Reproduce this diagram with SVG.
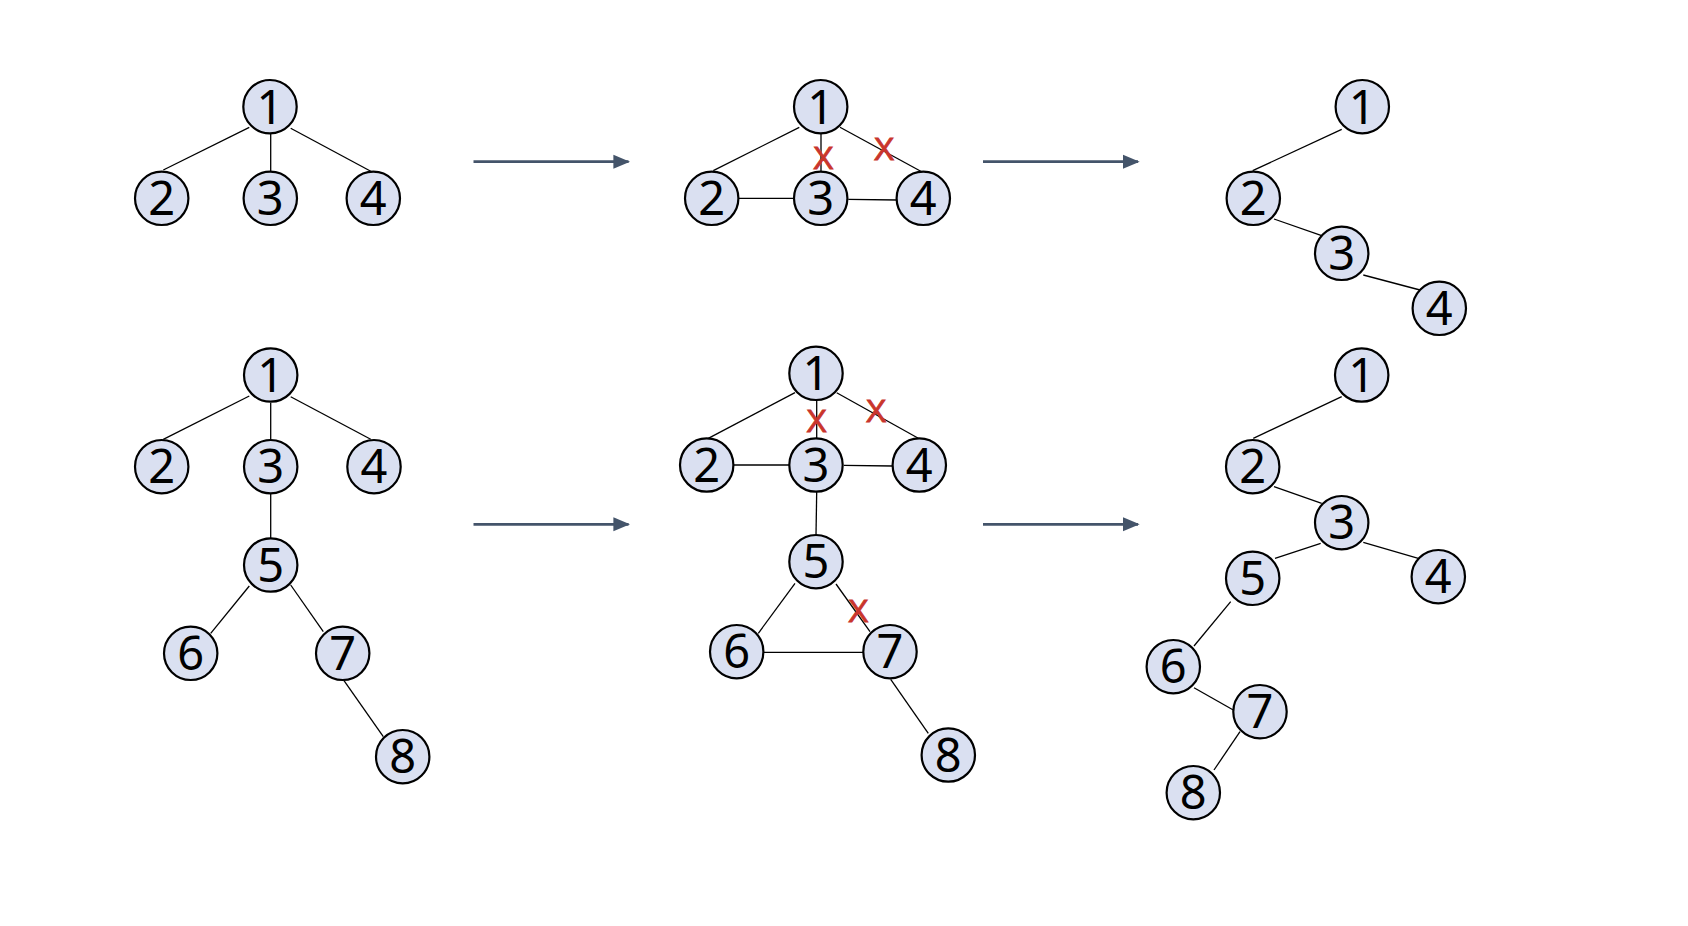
<svg xmlns="http://www.w3.org/2000/svg" width="1688" height="926" viewBox="0 0 1688 926">
<style>
.n circle{fill:#DAE0F1;stroke:#000;stroke-width:2.2}
.n text{font-family:"Noto Sans",Roboto,sans-serif;font-size:47px;fill:#000;text-anchor:middle}
.e line{stroke:#000;stroke-width:1.3}
.a line{stroke:#44546A;stroke-width:2.8}
.x{font-family:"Liberation Sans",Arial,sans-serif;font-size:31px;fill:#C9352C;stroke:#C9352C;stroke-width:0.9;text-anchor:middle}
</style>
<defs>
<marker id="ah" markerWidth="6" markerHeight="6" refX="5.4" refY="2.5" orient="auto" markerUnits="strokeWidth" viewBox="0 0 6 5">
<path d="M0,0 L6,2.5 L0,5 Z" fill="#44546A"/>
</marker>
</defs>
<rect width="1688" height="926" fill="#fff"/>

<g id="connectors">
<g class="e">
<line x1="249.3" y1="127.3" x2="163.3" y2="170"/>
<line x1="270.7" y1="133.3" x2="270.7" y2="171.7"/>
<line x1="290.7" y1="128.3" x2="371.7" y2="171.7"/>
<line x1="799.3" y1="127.3" x2="713.3" y2="170.7"/>
<line x1="821" y1="134" x2="821" y2="171.7"/>
<line x1="840" y1="127.3" x2="921.7" y2="171.7"/>
<line x1="738.3" y1="198.3" x2="794" y2="198.3"/>
<line x1="848.3" y1="199.3" x2="897.3" y2="200"/>
<line x1="1341.7" y1="129.3" x2="1252.7" y2="170.7"/>
<line x1="1274" y1="219" x2="1321.7" y2="235.7"/>
<line x1="1363.3" y1="275" x2="1420" y2="290"/>
<line x1="249.3" y1="396" x2="163.3" y2="439.3"/>
<line x1="270.7" y1="402.7" x2="270.7" y2="439.3"/>
<line x1="290.7" y1="396.7" x2="370.7" y2="439.3"/>
<line x1="270.7" y1="494" x2="270.7" y2="538.3"/>
<line x1="249.3" y1="586" x2="210.7" y2="633.3"/>
<line x1="290.7" y1="585" x2="323.3" y2="631.7"/>
<line x1="344" y1="680.7" x2="383.3" y2="736.7"/>
<line x1="795" y1="392.7" x2="708.3" y2="438.3"/>
<line x1="816.7" y1="400" x2="816.7" y2="438.3"/>
<line x1="836.7" y1="392.7" x2="918.3" y2="438.3"/>
<line x1="734" y1="465" x2="789.3" y2="465"/>
<line x1="844" y1="465.3" x2="892.3" y2="466"/>
<line x1="816.7" y1="491.7" x2="816" y2="535"/>
<line x1="795" y1="583.3" x2="758.3" y2="633.3"/>
<line x1="836" y1="584" x2="870" y2="631.7"/>
<line x1="764" y1="652.3" x2="863.3" y2="652.3"/>
<line x1="890.7" y1="679.3" x2="928.3" y2="733.3"/>
<line x1="1341.7" y1="396.7" x2="1253.3" y2="438.3"/>
<line x1="1274" y1="486.7" x2="1321.7" y2="503.3"/>
<line x1="1320.7" y1="543.3" x2="1275" y2="558.3"/>
<line x1="1363.3" y1="542.3" x2="1418.3" y2="558.3"/>
<line x1="1230.7" y1="601.7" x2="1194" y2="646"/>
<line x1="1194" y1="687.7" x2="1233.3" y2="710"/>
<line x1="1240" y1="731.7" x2="1214" y2="770"/>
</g>
<g class="a">
<line x1="473.5" y1="161.7" x2="628.5" y2="161.7" marker-end="url(#ah)"/>
<line x1="983" y1="161.7" x2="1138" y2="161.7" marker-end="url(#ah)"/>
<line x1="473.5" y1="524.3" x2="628.5" y2="524.3" marker-end="url(#ah)"/>
<line x1="983" y1="524.3" x2="1138" y2="524.3" marker-end="url(#ah)"/>
</g>
</g>

<g id="tl1" class="n"><circle cx="270" cy="106.7" r="26.7"/><text x="270" y="123.5">1</text></g>
<g id="tl2" class="n"><circle cx="161.7" cy="198.3" r="26.7"/><text x="161.7" y="215">2</text></g>
<g id="tl3" class="n"><circle cx="270.3" cy="198.3" r="26.7"/><text x="270.3" y="215">3</text></g>
<g id="tl4" class="n"><circle cx="373.3" cy="198.3" r="26.7"/><text x="373.3" y="215">4</text></g>

<g id="tm1" class="n"><circle cx="820.7" cy="106.7" r="26.7"/><text x="820.7" y="123.5">1</text></g>
<g id="tm2" class="n"><circle cx="711.7" cy="198.3" r="26.7"/><text x="711.7" y="215">2</text></g>
<g id="tm3" class="n"><circle cx="820.7" cy="198.3" r="26.7"/><text x="820.7" y="215">3</text></g>
<g id="tm4" class="n"><circle cx="923.3" cy="198.3" r="26.7"/><text x="923.3" y="215">4</text></g>
<text class="x" x="823.3" y="169">X</text>
<text class="x" x="884" y="160">X</text>

<g id="tr1" class="n"><circle cx="1362.3" cy="106.7" r="26.7"/><text x="1362.3" y="123.5">1</text></g>
<g id="tr2" class="n"><circle cx="1253.3" cy="198.3" r="26.7"/><text x="1253.3" y="215">2</text></g>
<g id="tr3" class="n"><circle cx="1341.7" cy="253.3" r="26.7"/><text x="1341.7" y="270">3</text></g>
<g id="tr4" class="n"><circle cx="1439.3" cy="308.3" r="26.7"/><text x="1439.3" y="325">4</text></g>

<g id="bl1" class="n"><circle cx="270.7" cy="375" r="26.7"/><text x="270.7" y="391.8">1</text></g>
<g id="bl2" class="n"><circle cx="161.7" cy="466.7" r="26.7"/><text x="161.7" y="483.4">2</text></g>
<g id="bl3" class="n"><circle cx="270.7" cy="466.7" r="26.7"/><text x="270.7" y="483.4">3</text></g>
<g id="bl4" class="n"><circle cx="374" cy="466.7" r="26.7"/><text x="374" y="483.4">4</text></g>
<g id="bl5" class="n"><circle cx="270.7" cy="565" r="26.7"/><text x="270.7" y="581.8">5</text></g>
<g id="bl6" class="n"><circle cx="190.7" cy="653.3" r="26.7"/><text x="190.7" y="670">6</text></g>
<g id="bl7" class="n"><circle cx="342.7" cy="653.3" r="26.7"/><text x="342.7" y="670">7</text></g>
<g id="bl8" class="n"><circle cx="402.7" cy="756.7" r="26.7"/><text x="402.7" y="773.4">8</text></g>

<g id="bm1" class="n"><circle cx="816" cy="373.3" r="26.7"/><text x="816" y="390">1</text></g>
<g id="bm2" class="n"><circle cx="706.7" cy="465" r="26.7"/><text x="706.7" y="481.8">2</text></g>
<g id="bm3" class="n"><circle cx="816" cy="465" r="26.7"/><text x="816" y="481.8">3</text></g>
<g id="bm4" class="n"><circle cx="919.3" cy="465" r="26.7"/><text x="919.3" y="481.8">4</text></g>
<g id="bm5" class="n"><circle cx="816" cy="561.7" r="26.7"/><text x="816" y="578.4">5</text></g>
<g id="bm6" class="n"><circle cx="736.7" cy="651.7" r="26.7"/><text x="736.7" y="668.4">6</text></g>
<g id="bm7" class="n"><circle cx="890" cy="651.7" r="26.7"/><text x="890" y="668.4">7</text></g>
<g id="bm8" class="n"><circle cx="948.3" cy="755" r="26.7"/><text x="948.3" y="771.8">8</text></g>
<text class="x" x="816.7" y="431.5">X</text>
<text class="x" x="876" y="422">X</text>
<text class="x" x="858.3" y="621.5">X</text>

<g id="br1" class="n"><circle cx="1361.7" cy="375" r="26.7"/><text x="1361.7" y="391.8">1</text></g>
<g id="br2" class="n"><circle cx="1252.7" cy="466.7" r="26.7"/><text x="1252.7" y="483.4">2</text></g>
<g id="br3" class="n"><circle cx="1341.7" cy="522.7" r="26.7"/><text x="1341.7" y="539.4">3</text></g>
<g id="br4" class="n"><circle cx="1438.3" cy="576.7" r="26.7"/><text x="1438.3" y="593.4">4</text></g>
<g id="br5" class="n"><circle cx="1252.7" cy="578.3" r="26.7"/><text x="1252.7" y="595">5</text></g>
<g id="br6" class="n"><circle cx="1173.3" cy="666.7" r="26.7"/><text x="1173.3" y="683.4">6</text></g>
<g id="br7" class="n"><circle cx="1260" cy="711.7" r="26.7"/><text x="1260" y="728.4">7</text></g>
<g id="br8" class="n"><circle cx="1193.3" cy="792.7" r="26.7"/><text x="1193.3" y="809.4">8</text></g>
</svg>
